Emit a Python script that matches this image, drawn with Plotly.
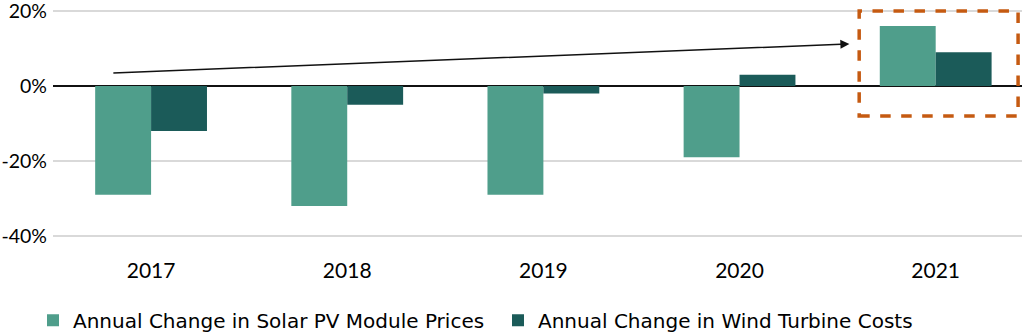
import plotly.graph_objects as go

years = ["2017", "2018", "2019", "2020", "2021"]
solar = [-29, -32, -29, -19, 16]
wind = [-12, -5, -2, 3, 9]
y_ticks = [20, 0, -20, -40]
y_labels = ["20%", "0%", "-20%", "-40%"]

solar_color = "#4F9E8B"
wind_color = "#1B5B59"

fig = go.Figure()
fig.add_trace(go.Bar(x=years, y=solar, name="Annual Change in Solar PV Module Prices",
                     marker=dict(color=solar_color, line=dict(width=0))))
fig.add_trace(go.Bar(x=years, y=wind, name="Annual Change in Wind Turbine Costs",
                     marker=dict(color=wind_color, line=dict(width=0))))

fig.update_layout(
    width=1022, height=336,
    margin=dict(l=53, r=0, t=3, b=86, autoexpand=False),
    paper_bgcolor="white", plot_bgcolor="white",
    barmode="group", bargap=0.43, bargroupgap=0,
    font=dict(family="Lato, sans-serif", size=21, color="#000000"),
    showlegend=True,
    legend=dict(orientation="h", xref="container", yref="container",
                x=33/1022, y=0.105, xanchor="left", yanchor="top",
                font=dict(family="DejaVu Sans", size=20, color="#000000"),
                traceorder="normal", itemwidth=30, entrywidth=420, entrywidthmode="pixels"),
)
fig.update_xaxes(type="category", range=[-0.5, 4.44], showgrid=False, showline=False,
                 ticks="", tickfont=dict(size=21), ticklabelstandoff=6, automargin=False)
fig.update_yaxes(range=[-43.73, 22.13], tickvals=y_ticks, ticktext=y_labels,
                 showgrid=True, gridcolor="#d9d9d9", gridwidth=1.5,
                 zeroline=True, zerolinecolor="#111111", zerolinewidth=1.5,
                 showline=False, ticks="", ticklabelstandoff=5, tickfont=dict(size=19.5),
                 ticklabeloverflow="allow", automargin=False)

# trend arrow
fig.add_annotation(x=3.56, y=11.2, ax=-0.2, ay=3.47, xref="x", yref="y", axref="x", ayref="y",
                   text="", showarrow=True, arrowhead=2, arrowsize=1.2, arrowwidth=1.5,
                   arrowcolor="#111111")
# dashed highlight box
fig.add_shape(type="rect", xref="x", yref="y", x0=3.61, x1=4.42, y0=-8, y1=20,
              line=dict(color="#C55A11", width=3.5, dash="dash"), fillcolor="rgba(0,0,0,0)")

fig.write_html("out.html")
